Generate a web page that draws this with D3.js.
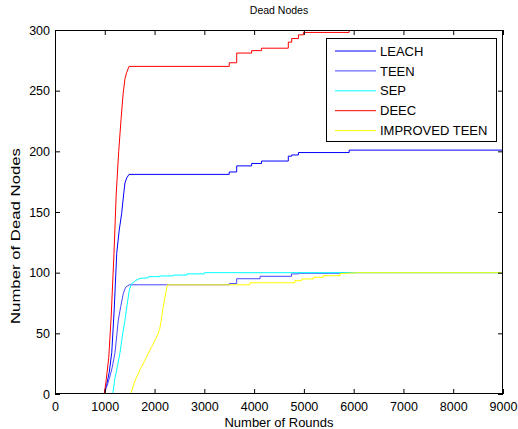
<!DOCTYPE html>
<html>
<head>
<meta charset="utf-8">
<script src="https://cdn.jsdelivr.net/npm/d3@7"></script>
<style>
  body { margin: 0; background: #fff; }
  text { font-family: "Liberation Sans", Arial, sans-serif; fill: #000; }
</style>
</head>
<body>
<div id="chart"></div>
<script>
// ---- data (step corners listed twice) ----
var seriesNames = ["LEACH", "TEEN", "SEP", "DEEC", "IMPROVED TEEN"];
var seriesColors = ["#0000ff", "#4646ff", "#00ffff", "#ff0000", "#ffff00"];

var leachRounds = [0, 985, 1040, 1090, 1140, 1190, 1240, 1290, 1340, 1380, 1406, 1440, 1487, 3500, 3500, 3650, 3650, 3950, 3950, 4150, 4150, 4687, 4687, 4755, 4755, 4890, 4890, 5910, 5910, 9000];
var leachDead   = [0, 0, 8, 18, 34, 70, 116, 135, 149, 165, 174, 178, 181, 181, 183, 183, 188, 188, 190, 190, 192, 192, 196, 196, 197, 197, 199, 199, 201, 201];

var teenRounds = [0, 985, 1040, 1100, 1150, 1205, 1240, 1272, 1320, 1373, 1420, 1490, 3500, 3500, 3650, 3650, 4120, 4120, 4750, 4750, 4890, 4890, 5725, 5725, 9000];
var teenDead   = [0, 0, 6, 14, 22, 34, 48, 61, 72, 83, 88, 90, 90, 91, 91, 95, 95, 97, 97, 99, 99, 99.5, 99.5, 100, 100];

var sepRounds = [0, 1160, 1200, 1250, 1306, 1350, 1406, 1450, 1494, 1540, 1620, 1708, 1875, 1875, 2100, 2100, 2377, 2377, 2650, 2650, 3000, 3000, 9000];
var sepDead   = [0, 0, 12, 22, 34, 47, 61, 74, 86, 91, 93.5, 95.3, 95.8, 96.7, 96.7, 97.3, 97.3, 98, 98, 99, 99, 100, 100];

var deecRounds = [0, 990, 1030, 1080, 1130, 1185, 1230, 1280, 1326, 1370, 1406, 1440, 1487, 3500, 3500, 3650, 3650, 3950, 3950, 4150, 4150, 4687, 4687, 4755, 4755, 4890, 4890, 4990, 4990, 5910, 5910, 9000];
var deecDead   = [0, 0, 12, 30, 65, 116, 165, 200, 226, 248, 260, 265, 270, 270, 273, 273, 281, 281, 283, 283, 285, 285, 290, 290, 293, 293, 296, 296, 298, 298, 300, 300];

var impRounds = [0, 1520, 1607, 1708, 1808, 1942, 2043, 2100, 2123, 2163, 2210, 2256, 3917, 3917, 4821, 4821, 4955, 4955, 5190, 5190, 5390, 5390, 5725, 5725, 6100, 9000];
var impDead   = [0, 0, 11, 20, 28, 39, 47, 53, 58, 69, 80, 90, 90, 91.7, 91.7, 93.4, 93.4, 94.8, 94.8, 96.2, 96.2, 97.5, 97.5, 99.2, 100, 100];

var xTicks = d3.range(0, 9001, 1000);
var yTicks = d3.range(0, 301, 50);

var allRounds = [leachRounds, teenRounds, sepRounds, deecRounds, impRounds];
var allDead = [leachDead, teenDead, sepDead, deecDead, impDead];

// ---- layout ----
var W = 518, H = 429;
var plot = { left: 55, top: 30, right: 503, bottom: 394 };

var svg = d3.select("#chart").append("svg")
    .attr("width", W)
    .attr("height", H);

var x = d3.scaleLinear().domain([0, 9000]).range([plot.left, plot.right]);
var y = d3.scaleLinear().domain([0, 300]).range([plot.bottom, plot.top]);

svg.append("defs").append("clipPath").attr("id", "clip")
    .append("rect")
    .attr("x", plot.left).attr("y", plot.top)
    .attr("width", plot.right - plot.left)
    .attr("height", plot.bottom - plot.top);

// lines
var line = d3.line()
    .x(function (d) { return x(d[0]); })
    .y(function (d) { return y(d[1]); });

var lines = svg.append("g").attr("clip-path", "url(#clip)");
seriesNames.forEach(function (name, i) {
    var pts = allRounds[i].map(function (r, j) { return [r, allDead[i][j]]; });
    lines.append("path")
        .datum(pts)
        .attr("d", line)
        .attr("fill", "none")
        .attr("stroke", seriesColors[i])
        .attr("stroke-width", 1);
});

// axes (matlab box style, ticks inward on all four sides)
function styleAxis(g) {
    g.select(".domain").remove();
    g.selectAll(".tick line").attr("stroke", "#000");
    g.selectAll("text").style("font-size", "12.5px")
        .style("font-family", '"Liberation Sans", Arial, sans-serif');
}

var fmt = d3.format("d");

svg.append("g")
    .attr("transform", "translate(0," + plot.bottom + ")")
    .call(d3.axisBottom(x).tickValues(xTicks).tickFormat(fmt).tickSizeInner(-5).tickSizeOuter(0).tickPadding(8))
    .call(styleAxis);

svg.append("g")
    .attr("transform", "translate(0," + plot.top + ")")
    .call(d3.axisTop(x).tickValues(xTicks).tickSizeInner(-5).tickSizeOuter(0).tickFormat(""))
    .call(styleAxis);

svg.append("g")
    .attr("transform", "translate(" + plot.left + ",0)")
    .call(d3.axisLeft(y).tickValues(yTicks).tickFormat(fmt).tickSizeInner(-5).tickSizeOuter(0).tickPadding(5))
    .call(styleAxis);

svg.append("g")
    .attr("transform", "translate(" + plot.right + ",0)")
    .call(d3.axisRight(y).tickValues(yTicks).tickSizeInner(-5).tickSizeOuter(0).tickFormat(""))
    .call(styleAxis);

svg.append("rect")
    .attr("x", plot.left + 0.5).attr("y", plot.top + 0.5)
    .attr("width", plot.right - plot.left - 1)
    .attr("height", plot.bottom - plot.top - 1)
    .attr("fill", "none")
    .attr("stroke", "#000")
    .attr("stroke-width", 1);

// titles
svg.append("text")
    .attr("x", (plot.left + plot.right) / 2)
    .attr("y", 14)
    .attr("text-anchor", "middle")
    .style("font-size", "10.5px")
    .text("Dead Nodes");

svg.append("text")
    .attr("x", (plot.left + plot.right) / 2)
    .attr("y", 427)
    .attr("text-anchor", "middle")
    .style("font-size", "13px")
    .text("Number of Rounds");

svg.append("text")
    .attr("transform", "translate(20,236) rotate(-90)")
    .attr("text-anchor", "middle")
    .attr("textLength", 176)
    .attr("lengthAdjust", "spacingAndGlyphs")
    .style("font-size", "13px")
    .text("Number of Dead Nodes");

// legend
var leg = svg.append("g");
leg.append("rect")
    .attr("x", 326.5).attr("y", 38.5)
    .attr("width", 170).attr("height", 103)
    .attr("fill", "#fff")
    .attr("stroke", "#000")
    .attr("stroke-width", 1);

seriesNames.forEach(function (name, i) {
    var ly = 51 + i * 19.9;
    leg.append("line")
        .attr("x1", 335).attr("x2", 376)
        .attr("y1", ly).attr("y2", ly)
        .attr("stroke", seriesColors[i])
        .attr("stroke-width", 1);
    leg.append("text")
        .attr("x", 380).attr("y", ly)
        .attr("dy", "0.36em")
        .style("font-size", "13px")
        .text(name);
});
</script>
</body>
</html>
